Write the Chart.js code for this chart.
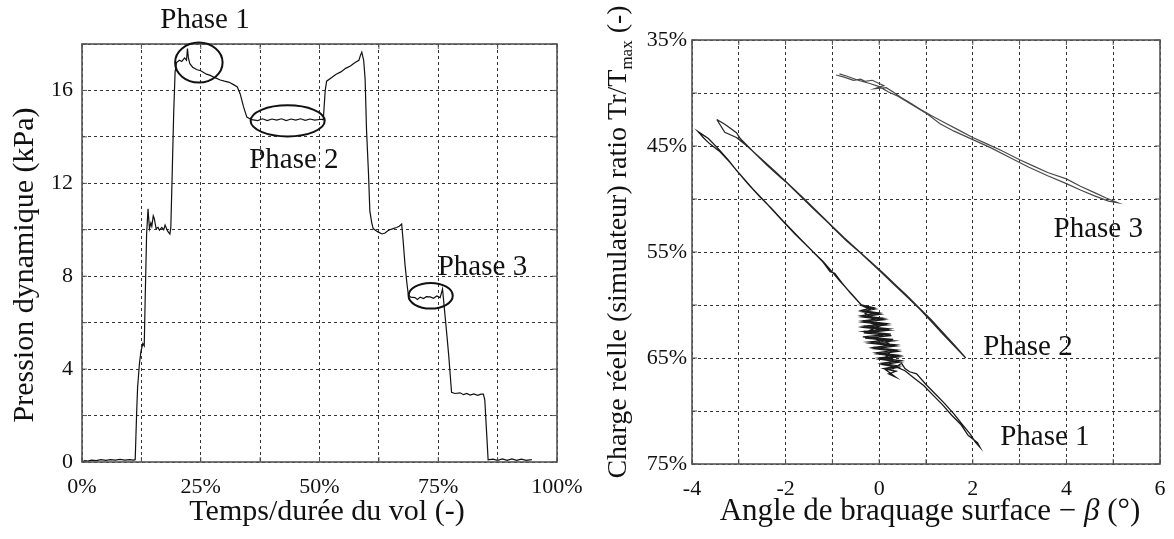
<!DOCTYPE html>
<html>
<head>
<meta charset="utf-8">
<script src="https://cdn.jsdelivr.net/npm/chart.js@4.4.1/dist/chart.umd.min.js"></script>
<style>
html, body { margin: 0; padding: 0; background: #fff; }
#wrap { position: relative; width: 1174px; height: 539px; }
#left { position: absolute; left: 0; top: 0; width: 590px; height: 539px; }
#right { position: absolute; left: 590px; top: 0; width: 584px; height: 539px; }
</style>
</head>
<body>
<div id="wrap">
<canvas id="left" width="590" height="539"></canvas>
<canvas id="right" width="584" height="539"></canvas>
</div>
<script>
// left panel : dynamic pressure over flight time
var timePct = [0, 0.6, 1.2, 2, 3, 4, 5, 6, 7, 8, 9, 10, 10.8, 11.2, 11.5, 11.7, 12.1, 12.4, 12.8, 13.1,
  13.3, 13.6, 13.9, 14.2, 14.5, 14.7, 15.0, 15.2, 15.6, 16.0, 16.3, 16.8, 17.2, 17.5, 18.0, 18.5, 18.7,
  19.0, 19.3, 19.6, 19.9, 20.5, 21.0, 21.6, 22.0, 22.2, 22.4, 22.7, 23.3, 24.1, 25.0, 26.2, 27.0, 28.0,
  29.1, 30.0, 31.0, 31.9, 32.7, 33.3, 34.0, 34.7, 35.7, 37, 38, 39, 40, 41, 42, 43, 44, 45, 46, 47, 48,
  49, 50.3, 50.8, 51.2, 51.5, 52.5, 53.5, 54.5, 55.5, 56.5, 57.5, 58.3, 58.6, 58.9, 59.3, 59.6, 59.9,
  60.3, 60.6, 61.0, 61.3, 62.0, 62.4, 63.2, 63.8, 64.3, 64.8, 65.5, 66.2, 66.8, 67.3, 67.6, 68.0, 68.4,
  68.7, 69.2, 70.1, 70.6, 71.2, 71.9, 72.5, 73.3, 74.0, 74.7, 75.4, 75.9, 76.2, 76.8, 77.2, 77.5, 77.8,
  78.5, 79.6, 80.3, 81.0, 81.7, 82.5, 83.3, 84.0, 84.5, 84.8, 85.2, 85.5, 86.5, 87.5, 88.5, 89.5, 90.5,
  91.5, 92.5, 93.5, 94.7];
var pressure = [0, 0.06, 0.04, 0.08, 0.06, 0.1, 0.07, 0.1, 0.08, 0.11, 0.08, 0.1, 0.08, 0.1, 2.1, 3.2, 4.25, 4.75, 5.1, 5.0,
  7.0, 9.8, 10.9, 10.05, 10.3, 10.15, 10.6, 10.5, 10.05, 10.1, 9.98, 10.1, 10.0, 10.2, 9.95, 9.82, 10.1,
  12.5, 15.0, 16.8, 17.2, 17.3, 17.25, 17.4, 17.3, 17.8, 17.4, 17.15, 17.0, 16.9, 16.85, 16.7, 16.65, 16.55,
  16.45, 16.4, 16.35, 16.25, 16.15, 15.85, 15.3, 14.85, 14.74, 14.7, 14.78, 14.7, 14.77, 14.72, 14.78, 14.7, 14.77, 14.72, 14.78, 14.71, 14.77,
  14.72, 14.76, 14.74, 16.0, 16.4, 16.55, 16.7, 16.8, 16.95, 17.05, 17.2, 17.3, 17.5, 17.65, 17.3, 16.5, 14.3,
  12.5, 10.8, 10.3, 10.05, 9.95, 9.9, 9.82, 9.86, 9.95, 10.0, 10.05, 10.1, 10.15, 10.25, 9.55, 8.5, 7.7,
  7.2, 7.1, 7.08, 7.0, 7.1, 7.04, 7.12, 7.11, 7.05, 7.15, 7.08, 7.45, 6.8, 5.5, 4.6, 3.8, 3.0,
  2.95, 2.98, 2.9, 2.95, 2.88, 2.93, 2.87, 2.92, 2.92, 2.67, 1.2, 0.09, 0.12, 0.07, 0.13, 0.07, 0.13,
  0.07, 0.12, 0.07, 0.1];
var timeLabels = [0, 25, 50, 75, 100];
var pressureLabels = [0, 4, 8, 12, 16];

// right panel : load ratio vs surface angle
// phase 1 : upper branch out and back, the dense cloud near 0, then the lower branch
var phase1Angle = [-0.38, -0.6, -0.85, -1.0, -1.2, -1.41, -1.7, -2.05, -2.3, -2.55, -2.8, -3.05, -3.23, -3.45, -3.65, -3.87,
  -3.75, -3.62, -3.4, -3.2, -3.0, -2.7, -2.4, -2.1, -1.8, -1.5, -1.2, -1.05, -0.95, -0.8, -0.6, -0.4, -0.32,
  -0.36, -0.12, -0.38, 0.0, -0.37, 0.08, -0.35, 0.15, -0.33, 0.2, -0.33, 0.25, -0.35, 0.3, -0.22, 0.34, -0.12, 0.38,
  -0.05, 0.42, 0.0, 0.45, 0.05, 0.42, 0.1, 0.36, 0.2, 0.35,
  0.14, 0.4, 0.07, 0.45, 0.02, 0.43, -0.03, 0.39, -0.1, 0.35, -0.18, 0.31, -0.3, 0.26, -0.33, 0.21, -0.33, 0.16,
  -0.34, 0.1, -0.36, 0.02, -0.37, -0.08, -0.34,
  -0.2, -0.3, -0.1, -0.25, 0.0, -0.2, 0.1, -0.1, 0.2, 0.05, 0.25, 0.15, 0.3, 0.2, 0.3, 0.48, 0.55, 0.65,
  0.8, 1.0, 1.2, 1.4, 1.6, 1.8, 1.95, 2.05, 2.15, 2.1, 1.9, 1.75, 1.55, 1.35, 1.15, 0.95, 0.75, 0.55, 0.4];
var phase1Load = [60.0, 58.9, 57.7, 56.9, 55.9, 55.0, 53.7, 52.1, 50.9, 49.8, 48.6, 47.3, 46.3, 45.2, 44.3, 43.65,
  44.25, 44.8, 45.55, 46.5, 47.55, 49.05, 50.45, 51.9, 53.3, 54.6, 55.95, 56.85, 57.0, 57.9, 58.95, 59.9, 60.2,
  60.0, 60.25, 60.5, 60.75, 61.0, 61.25, 61.5, 61.75, 62.0, 62.25, 62.5, 62.75, 63.0, 63.25, 63.5, 63.75, 64.0, 64.25,
  64.5, 64.75, 65.0, 65.25, 65.5, 65.75, 66.0, 66.25, 66.5, 66.8,
  66.12, 65.88, 65.62, 65.38, 65.12, 64.88, 64.62, 64.38, 64.12, 63.88, 63.62, 63.38, 63.12, 62.88, 62.62, 62.38, 62.12, 61.88,
  61.62, 61.38, 61.12, 60.88, 60.62, 60.38, 60.12,
  60.4, 60.8, 61.2, 61.6, 62.0, 62.4, 62.8, 63.2, 63.6, 64.0, 64.4, 64.8, 65.2, 65.6, 66.0, 65.5, 66.0, 66.3,
  66.5, 67.5, 68.4, 69.3, 70.3, 71.4, 72.2, 72.9, 73.4, 73.0, 72.3, 71.3, 70.4, 69.4, 68.5, 67.6, 66.9, 66.2, 65.9];
var phase2Angle = [-3.47, -3.3, -3.05, -2.97, -2.7, -2.4, -2.1, -1.98, -1.7, -1.4, -1.1, -0.98, -0.7, -0.41, -0.15, 0.1,
  0.3, 0.6, 0.87, 1.1, 1.35, 1.6, 1.85, 1.6, 1.35, 1.1, 0.85, 0.6, 0.35, 0.1, -0.2, -0.45, -0.75, -1.0,
  -1.3, -1.6, -1.9, -2.2, -2.5, -2.8, -3.05, -3.3, -3.47];
var phase2Load = [42.5, 42.95, 43.75, 44.3, 45.5, 46.8, 48.0, 48.45, 49.65, 50.95, 52.2, 52.75, 53.95, 55.05, 56.1, 57.15,
  58.0, 59.25, 60.4, 61.5, 62.7, 63.85, 65.0, 63.75, 62.55, 61.35, 60.25, 59.15, 58.1, 57.05, 55.85, 54.85, 53.65, 52.6,
  51.3, 50.0, 48.75, 47.5, 46.3, 45.1, 44.2, 43.7, 42.5];
var phase3Angle = [-0.92, -0.75, -0.55, -0.4, -0.3, -0.15, 0.0, 0.1, -0.1, 0.15, 0.3, 0.46, 0.65, 0.87, 1.1, 1.4, 1.7,
  2.0, 2.3, 2.6, 3.0, 3.3, 3.6, 4.0, 4.3, 4.6, 4.85, 5.1, 4.9, 4.6, 4.3, 4.0, 3.6, 3.2, 2.8, 2.4, 2.0,
  1.6, 1.3, 1.0, 0.7, 0.4, 0.2, 0.0, -0.2, -0.45, -0.7, -0.85];
var phase3Load = [38.3, 38.5, 38.8, 38.7, 38.9, 38.8, 39.1, 39.3, 39.6, 39.5, 39.9, 40.4, 40.9, 41.5, 42.1, 42.8, 43.5,
  44.2, 44.8, 45.4, 46.3, 46.9, 47.5, 48.1, 48.8, 49.4, 49.9, 50.35, 50.2, 49.7, 49.15, 48.55, 47.8, 47.0, 46.1, 45.2, 44.4,
  43.6, 42.9, 41.9, 41.1, 40.3, 39.9, 39.4, 39.1, 38.8, 38.4, 38.2];
var angleLabels = [-4, -2, 0, 2, 4, 6];
var loadLabels = [35, 45, 55, 65, 75];

var serif = "'Liberation Serif', 'Times New Roman', serif";
var ink = '#111';

function pts(xs, ys) {
  return xs.map(function(v, i) { return { x: v, y: ys[i] }; });
}

// box, inward ticks, ellipses, phase labels and axis titles
var frame = {
  id: 'frame',
  afterDraw: function(chart, args, opts) {
    var ctx = chart.ctx, a = chart.chartArea;
    var xs = chart.scales.x, ys = chart.scales.y;
    ctx.save();
    ctx.strokeStyle = '#555';
    ctx.lineWidth = 1;
    ctx.beginPath();
    xs.ticks.forEach(function(t) {
      var p = xs.getPixelForValue(t.value);
      ctx.moveTo(p, a.bottom); ctx.lineTo(p, a.bottom - 5);
      ctx.moveTo(p, a.top); ctx.lineTo(p, a.top + 5);
    });
    ys.ticks.forEach(function(t) {
      var p = ys.getPixelForValue(t.value);
      ctx.moveTo(a.left, p); ctx.lineTo(a.left + 5, p);
      ctx.moveTo(a.right, p); ctx.lineTo(a.right - 5, p);
    });
    ctx.stroke();
    ctx.lineWidth = 1.6;
    ctx.strokeRect(a.left, a.top, a.right - a.left, a.bottom - a.top);

    ctx.strokeStyle = ink;
    ctx.lineWidth = 2;
    (opts.ellipses || []).forEach(function(e) {
      var cx = xs.getPixelForValue(e.x), cy = ys.getPixelForValue(e.y);
      var rx = Math.abs(xs.getPixelForValue(e.x + e.rx) - cx);
      var ry = Math.abs(ys.getPixelForValue(e.y + e.ry) - cy);
      ctx.beginPath();
      ctx.ellipse(cx, cy, rx, ry, 0, 0, Math.PI * 2);
      ctx.stroke();
    });

    ctx.fillStyle = ink;
    ctx.textAlign = 'center';
    ctx.textBaseline = 'middle';
    ctx.font = '29px ' + serif;
    (opts.labels || []).forEach(function(l) {
      ctx.fillText(l.text, xs.getPixelForValue(l.x), ys.getPixelForValue(l.y));
    });

    (opts.titles || []).forEach(function(t) {
      var big = t.size || 30, small = Math.round(big * 0.62);
      ctx.save();
      ctx.translate(t.x, t.y);
      if (t.rotate) ctx.rotate(-Math.PI / 2);
      ctx.textAlign = 'left';
      ctx.textBaseline = 'middle';
      var total = 0;
      t.parts.forEach(function(p) {
        ctx.font = (p.italic ? 'italic ' : '') + (p.sub ? small : big) + 'px ' + serif;
        p.w = ctx.measureText(p.text).width;
        total += p.w;
      });
      var cur = -total / 2;
      t.parts.forEach(function(p) {
        ctx.font = (p.italic ? 'italic ' : '') + (p.sub ? small : big) + 'px ' + serif;
        ctx.fillText(p.text, cur, p.sub ? big * 0.3 : 0);
        cur += p.w;
      });
      ctx.restore();
    });
    ctx.restore();
  }
};

function gridOpts() {
  return { color: '#333', lineWidth: 1, drawTicks: false };
}

// fixed axis boxes, no label overflow padding so the plot areas land where the reference has them
function fixX(h) {
  return function(s) { s.height = h; s.paddingLeft = 0; s.paddingRight = 0; };
}
function fixY(w) {
  return function(s) { s.width = w; s.paddingTop = 0; s.paddingBottom = 0; };
}

new Chart(document.getElementById('left'), {
  type: 'scatter',
  data: {
    datasets: [{
      data: pts(timePct, pressure),
      showLine: true,
      borderColor: '#111',
      borderWidth: 1.2,
      pointRadius: 0,
      tension: 0
    }]
  },
  options: {
    responsive: false,
    animation: false,
    layout: { padding: { left: 0, right: 33, top: 44, bottom: 0 } },
    plugins: {
      legend: { display: false },
      tooltip: { enabled: false },
      frame: {
        ellipses: [
          { x: 24.6, y: 17.2, rx: 5.0, ry: 0.86 },
          { x: 43.3, y: 14.69, rx: 7.8, ry: 0.67 },
          { x: 73.4, y: 7.16, rx: 4.65, ry: 0.55 }
        ],
        labels: [
          { text: 'Phase 1', x: 25.9, y: 19.0 },
          { text: 'Phase 2', x: 44.6, y: 13.0 },
          { text: 'Phase 3', x: 84.3, y: 8.4 }
        ],
        titles: [
          { parts: [{ text: 'Temps/durée du vol (-)' }], x: 327, y: 512, size: 30 },
          { parts: [{ text: 'Pression dynamique (kPa)' }], x: 25, y: 265, rotate: true, size: 30 }
        ]
      }
    },
    scales: {
      x: {
        type: 'linear', min: 0, max: 100,
        afterFit: fixX(77),
        grid: gridOpts(),
        border: { display: false, dash: [3, 3] },
        ticks: {
          stepSize: 12.5, padding: 12, color: ink, font: { family: serif, size: 22 },
          callback: function(v) { return timeLabels.indexOf(v) >= 0 ? v + '%' : ''; }
        }
      },
      y: {
        type: 'linear', min: 0, max: 18,
        afterFit: fixY(82),
        grid: gridOpts(),
        border: { display: false, dash: [3, 3] },
        ticks: {
          stepSize: 2, padding: 9, color: ink, font: { family: serif, size: 22 },
          callback: function(v) { return pressureLabels.indexOf(v) >= 0 ? String(v) : ''; }
        }
      }
    }
  },
  plugins: [frame]
});

function phaseSet(xs, ys, color, width) {
  return {
    data: pts(xs, ys),
    showLine: true,
    borderColor: color,
    borderWidth: width,
    pointRadius: 0,
    tension: 0
  };
}

new Chart(document.getElementById('right'), {
  type: 'scatter',
  data: {
    datasets: [
      phaseSet(phase1Angle, phase1Load, '#1a1a1a', 1.3),
      phaseSet(phase2Angle, phase2Load, '#2a2a2a', 1.3),
      phaseSet(phase3Angle, phase3Load, '#4a4a4a', 1.2)
    ]
  },
  options: {
    responsive: false,
    animation: false,
    layout: { padding: { left: 0, right: 14, top: 40, bottom: 0 } },
    plugins: {
      legend: { display: false },
      tooltip: { enabled: false },
      frame: {
        labels: [
          { text: 'Phase 1', x: 3.54, y: 72.45 },
          { text: 'Phase 2', x: 3.18, y: 64.0 },
          { text: 'Phase 3', x: 4.68, y: 52.9 }
        ],
        titles: [
          { parts: [{ text: 'Angle de braquage surface − ' }, { text: 'β', italic: true }, { text: ' (°)' }], x: 340, y: 512, size: 31 },
          { parts: [{ text: 'Charge réelle (simulateur) ratio Tr/T' }, { text: 'max', sub: true }, { text: ' (-)' }], x: 29, y: 242, rotate: true, size: 28 }
        ]
      }
    },
    scales: {
      x: {
        type: 'linear', min: -4, max: 6,
        afterFit: fixX(75),
        grid: gridOpts(),
        border: { display: false, dash: [3, 3] },
        ticks: {
          stepSize: 1, padding: 12, color: ink, font: { family: serif, size: 22 },
          callback: function(v) { return angleLabels.indexOf(v) >= 0 ? String(v) : ''; }
        }
      },
      y: {
        type: 'linear', min: 35, max: 75, reverse: true,
        afterFit: fixY(102),
        grid: gridOpts(),
        border: { display: false, dash: [3, 3] },
        ticks: {
          stepSize: 5, padding: 5, color: ink, font: { family: serif, size: 22 },
          callback: function(v) { return loadLabels.indexOf(v) >= 0 ? v + '%' : ''; }
        }
      }
    }
  },
  plugins: [frame]
});
</script>
</body>
</html>
